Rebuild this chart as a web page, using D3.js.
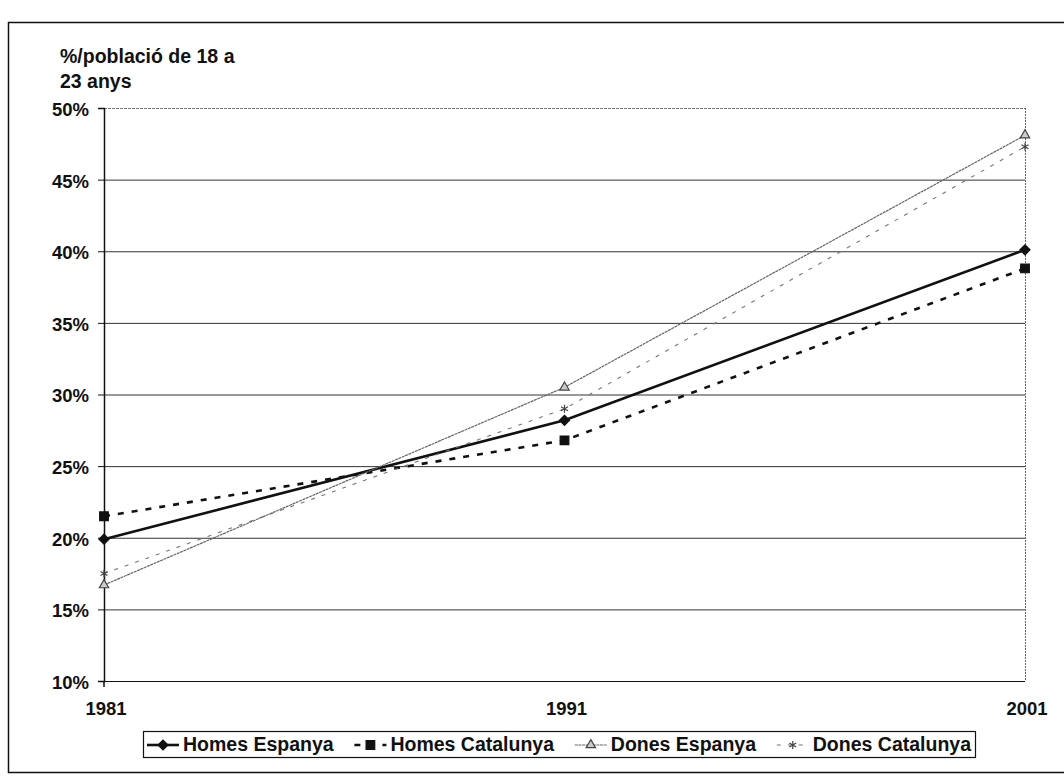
<!DOCTYPE html>
<html>
<head>
<meta charset="utf-8">
<script src="https://cdn.jsdelivr.net/npm/d3@7"></script>
<style>
  body { margin: 0; background: #fff; }
  text { font-family: "Liberation Sans", Arial, sans-serif; font-weight: bold; fill: #111; }
</style>
</head>
<body>
<div id="chart"></div>
<script>
// data (share of population aged 18-23, %)
const years = ['1981', '1991', '2001'];
const homesEspanya = [19.9, 28.2, 40.1];
const homesCatalunya = [21.5, 26.8, 38.8];
const donesEspanya = [16.7, 30.5, 48.1];
const donesCatalunya = [17.5, 29.0, 47.3];
const seriesNames = ['Homes Espanya', 'Homes Catalunya', 'Dones Espanya', 'Dones Catalunya'];
const yTicks = [10, 15, 20, 25, 30, 35, 40, 45, 50];

const width = 1064;
const height = 780;

const plotLeft = 104, plotRight = 1025, plotTop = 108, plotBottom = 681;

const svg = d3.select('#chart')
  .append('svg')
  .attr('width', width)
  .attr('height', height);

// outer frame (runs off the right edge in the scan)
svg.append('rect')
  .attr('x', 8.5).attr('y', 22.5)
  .attr('width', 1070).attr('height', 750)
  .attr('fill', 'none')
  .attr('stroke', '#111')
  .attr('stroke-width', 1.5);

const x = d3.scalePoint().domain(years).range([plotLeft, plotRight]);
const y = d3.scaleLinear().domain([10, 50]).range([plotBottom, plotTop]);

// gridlines
svg.append('g')
  .selectAll('line')
  .data(yTicks.slice(1))
  .enter()
  .append('line')
  .attr('x1', plotLeft).attr('x2', plotRight)
  .attr('y1', d => y(d) + 0.5).attr('y2', d => y(d) + 0.5)
  .attr('stroke', d => d === 50 ? '#777' : '#333')
  .attr('stroke-dasharray', d => d === 50 ? '3,1' : null)
  .attr('stroke-width', 1);

// right border of plot area, dotted
svg.append('line')
  .attr('x1', plotRight + 0.5).attr('x2', plotRight + 0.5)
  .attr('y1', plotTop).attr('y2', plotBottom)
  .attr('stroke', '#666')
  .attr('stroke-dasharray', '2,1');

// y axis
const yAxis = d3.axisLeft(y)
  .tickValues(yTicks)
  .tickSize(6)
  .tickPadding(9)
  .tickFormat(d => d + '%');
const gy = svg.append('g')
  .attr('transform', `translate(${plotLeft},0)`)
  .call(yAxis);
gy.select('.domain').attr('stroke', '#111').attr('stroke-width', 1.5);
gy.selectAll('.tick line').attr('stroke', '#111');
gy.selectAll('.tick text')
  .attr('font-size', 18.5)
  .attr('font-family', '"Liberation Sans", Arial, sans-serif')
  .attr('font-weight', 'bold')
  .attr('fill', '#111')
  .attr('dy', '0.4em');

// x axis line
svg.append('line')
  .attr('x1', plotLeft).attr('x2', plotRight)
  .attr('y1', plotBottom + 0.5).attr('y2', plotBottom + 0.5)
  .attr('stroke', '#111')
  .attr('stroke-width', 1.2);
svg.append('line')
  .attr('x1', plotLeft).attr('x2', plotLeft)
  .attr('y1', plotBottom).attr('y2', plotBottom + 6)
  .attr('stroke', '#111')
  .attr('stroke-width', 1.5);

svg.append('g')
  .selectAll('text')
  .data(years)
  .enter()
  .append('text')
  .attr('x', d => x(d) + 2)
  .attr('y', plotBottom + 34)
  .attr('text-anchor', 'middle')
  .attr('font-size', 18.5)
  .text(d => d);

// axis title
svg.append('text')
  .attr('x', 60).attr('y', 63)
  .attr('font-size', 19.5)
  .text('%/població de 18 a');
svg.append('text')
  .attr('x', 60).attr('y', 88)
  .attr('font-size', 19.5)
  .text('23 anys');

// series styles
const styles = [
  { values: homesEspanya, stroke: '#111', width: 2.6, dash: null, symbol: d3.symbolSquare, rot: 45, size: 50, fill: '#111', mStroke: '#111' },
  { values: homesCatalunya, stroke: '#111', width: 2.6, dash: '6,8', symbol: d3.symbolSquare, rot: 0, size: 75, fill: '#111', mStroke: '#111' },
  { values: donesEspanya, stroke: '#666', width: 1.2, dash: '3,0.6', symbol: d3.symbolTriangle, rot: 0, size: 38, fill: '#ccc', mStroke: '#444' },
  { values: donesCatalunya, stroke: '#777', width: 1.1, dash: '4,7', symbol: d3.symbolAsterisk, rot: 0, size: 45, fill: 'none', mStroke: '#444' }
];

const line = d3.line()
  .x((d, i) => x(years[i]))
  .y(d => y(d));

styles.forEach(function(s) {
  svg.append('path')
    .datum(s.values)
    .attr('d', line)
    .attr('fill', 'none')
    .attr('stroke', s.stroke)
    .attr('stroke-width', s.width)
    .attr('stroke-dasharray', s.dash);

  svg.append('g')
    .selectAll('path')
    .data(s.values)
    .enter()
    .append('path')
    .attr('d', d3.symbol().type(s.symbol).size(s.size))
    .attr('transform', (d, i) => `translate(${x(years[i])},${y(d)}) rotate(${s.rot})`)
    .attr('fill', s.fill)
    .attr('stroke', s.mStroke)
    .attr('stroke-width', 1.2);
});

/***
 * legend box */
const legX0 = 143, legX1 = 975, legY = 731, legH = 26;
svg.append('rect')
  .attr('x', legX0 + 0.5).attr('y', legY + 0.5)
  .attr('width', legX1 - legX0).attr('height', legH)
  .attr('fill', '#fff')
  .attr('stroke', '#111')
  .attr('stroke-width', 1.2);

const leg = svg.append('g');
const sampleW = 32, textGap = 4;
const items = seriesNames.map(function(name, i) {
  const g = leg.append('g');
  const t = g.append('text')
    .attr('x', sampleW + textGap)
    .attr('y', legY + 20)
    .attr('font-size', 19.5)
    .text(name);
  return { g: g, w: sampleW + textGap + t.node().getComputedTextLength(), s: styles[i] };
});
const totalW = d3.sum(items, d => d.w);
const pad = 4;
const spacing = (legX1 - legX0 - 2 * pad - totalW) / (items.length - 1);
let cx = legX0 + pad;
items.forEach(function(it) {
  it.g.attr('transform', `translate(${cx},0)`);
  const s = it.s;
  const cy = legY + legH / 2 + 1;
  it.g.append('line')
    .attr('x1', 0).attr('x2', sampleW)
    .attr('y1', cy).attr('y2', cy)
    .attr('stroke', s.stroke)
    .attr('stroke-width', s.width)
    .attr('stroke-dasharray', s.dash);
  it.g.append('path')
    .attr('d', d3.symbol().type(s.symbol).size(s.size))
    .attr('transform', `translate(${sampleW / 2},${cy}) rotate(${s.rot})`)
    .attr('fill', s.fill)
    .attr('stroke', s.mStroke)
    .attr('stroke-width', 1.2);
  cx += it.w + spacing;
});
</script>
</body>
</html>
